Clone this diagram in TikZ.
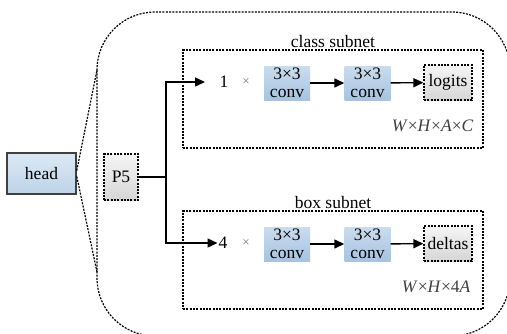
\documentclass[tikz,border=0pt]{standalone}
\usepackage{fontspec}
\setmainfont{Liberation Serif}
\usetikzlibrary{arrows.meta,positioning}
\definecolor{bluetop}{HTML}{DCE9F4}
\definecolor{bluebot}{HTML}{BDD3E8}
\definecolor{convtop}{HTML}{CADCEE}
\definecolor{convbot}{HTML}{A7C3DF}
\definecolor{greytop}{HTML}{F5F5F5}
\definecolor{greybot}{HTML}{D6D6D6}
\tikzset{
  dots/.style={dash pattern=on 2pt off 1.3pt, line width=1.2pt},
  headbox/.style={draw=black!75, line width=1.6pt, top color=bluetop, bottom color=bluebot, minimum width=69pt, minimum height=41pt, inner sep=0pt},
  convbox/.style={top color=convtop, bottom color=convbot, minimum width=46pt, minimum height=34pt, inner sep=0pt, align=center, font=\fontsize{17.5}{18.5}\selectfont},
  outbox/.style={draw, dots, top color=greytop, bottom color=greybot, minimum height=35pt, inner sep=0pt},
  subnet/.style={draw, dots, minimum width=300pt, minimum height=98pt, inner sep=0pt},
  arr/.style={-{Triangle[length=10pt,width=9pt]}, line width=1.4pt},
}
\begin{document}
\begin{tikzpicture}[x=1pt,y=-1pt,font=\fontsize{17.5}{19}\selectfont]
    \useasboundingbox (0,0) rectangle (507,333);
    \begin{scope}
    \clip (0,0) rectangle (507,333);
    % outer frame
    \draw[dots, rounded corners=58pt] (97,12) rectangle (510,336);
    \end{scope}
    \node[headbox] (head) at (41.5,173.5) {head};
    \draw[dots] ([yshift=3pt]head.east) -- (97,70);
    \draw[dots] ([yshift=-3pt]head.east) -- (97,272);
    \node[outbox, minimum width=34pt, minimum height=46pt] (p5) at (121,177) {P5};

    \node[subnet, label={[yshift=-2pt]above:class subnet}] (cls) at (333,99) {};
    \node[subnet, label={[yshift=-2pt]above:box subnet}] (box) at (333,260) {};

    \node[convbox] (cconv1) at (287,83) {3×3\\conv};
    \node[convbox] (cconv2) at (367.5,83) {3×3\\conv};
    \node[outbox, minimum width=48pt] (logits) at (448,82.5) {logits};
    \node[convbox] (bconv1) at (287,244) {3×3\\conv};
    \node[convbox] (bconv2) at (367.5,244) {3×3\\conv};
    \node[outbox, minimum width=48pt] (deltas) at (448,243.5) {deltas};

    \node (one) at (224,82) {1};
    \node[text=black!55, font=\fontsize{13}{13}\selectfont] (ctimes) at (246,82) {×};
    \node (four) at (223,243) {4};
    \node[text=black!55, font=\fontsize{13}{13}\selectfont] (btimes) at (246,243) {×};

    \coordinate (ctip) at (205,82);
    \coordinate (btip) at (217.5,243);
    \draw[line width=1.4pt] (p5.east) -- (166,177) coordinate (split);
    \draw[arr] (split) |- (ctip);
    \draw[arr] (split) |- (btip);
    \draw[arr] (cconv1) -- (cconv2);
    \draw[arr] (cconv2) -- (logits);
    \draw[arr] (bconv1) -- (bconv2);
    \draw[arr] (bconv2) -- (deltas);

    \node[anchor=east, text=black!75] (cshape) at (477,126) {\textit{W}×\textit{H}×\textit{A}×\textit{C}};
    \node[anchor=east, text=black!75] (bshape) at (474,287) {\textit{W}×\textit{H}×4\textit{A}};
\end{tikzpicture}
\end{document}
